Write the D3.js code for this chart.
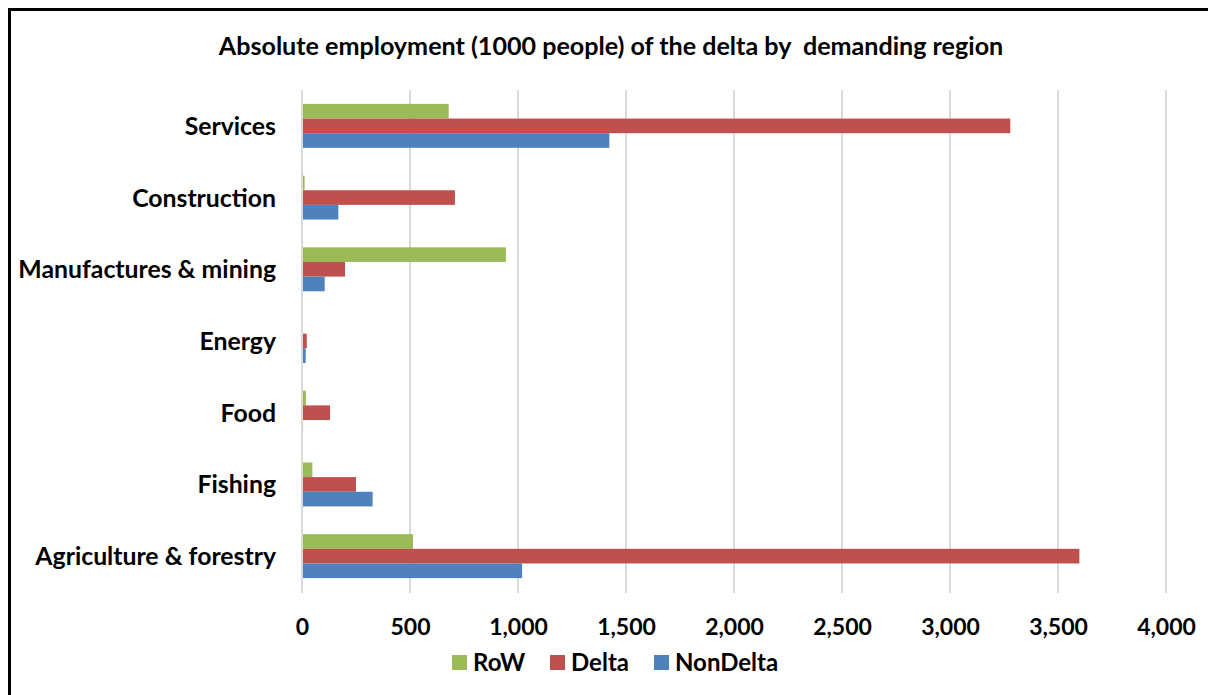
<!DOCTYPE html>
<html>
<head>
<meta charset="utf-8">
<script src="https://cdn.jsdelivr.net/npm/d3@7"></script>
<style>
  html, body { margin: 0; padding: 0; background: #fff; }
  svg { display: block; }
  text { font-family: Lato, "Liberation Sans", sans-serif; font-weight: bold; fill: #000; }
</style>
</head>
<body>
<svg id="chart" width="1208" height="695"></svg>
<script>
// Employment by sector (1000 people), split by demanding region
const categories = ["Services", "Construction", "Manufactures & mining", "Energy", "Food", "Fishing", "Agriculture & forestry"];
const seriesNames = ["RoW", "Delta", "NonDelta"];
const rowValues      = [679, 12, 944, 1, 18, 48, 514];
const deltaValues    = [3279, 708, 199, 22, 130, 250, 3599];
const nonDeltaValues = [1423, 168, 105, 17, 5, 327, 1019];
const seriesColors = ["#9BBB59", "#C0504D", "#4F81BD"];
const xTicks = [0, 500, 1000, 1500, 2000, 2500, 3000, 3500, 4000];
const titleText = "Absolute employment (1000 people) of the delta by  demanding region";

const seriesValues = [rowValues, deltaValues, nonDeltaValues];
const rows = categories.map((c, i) => ({
  category: c,
  values: seriesNames.map((s, j) => ({ series: s, value: seriesValues[j][i] }))
}));

const svg = d3.select("#chart");

// outer frame
svg.append("rect")
  .attr("x", 9.5).attr("y", 9.5)
  .attr("width", 1300).attr("height", 800)
  .attr("fill", "#fff").attr("stroke", "#000").attr("stroke-width", 3);

const plot = { left: 302, right: 1166, top: 90, bottom: 592 };

const x = d3.scaleLinear().domain([0, 4000]).range([plot.left, plot.right]);
const y = d3.scaleBand().domain(categories).range([plot.top, plot.bottom])
  .paddingInner(0.387).paddingOuter(0.1935);
const ySub = d3.scaleBand().domain(seriesNames).range([0, y.bandwidth()]).padding(0);
const color = d3.scaleOrdinal().domain(seriesNames).range(seriesColors);

// title
svg.append("text")
  .attr("x", 611).attr("y", 55)
  .attr("text-anchor", "middle")
  .attr("font-size", 25.1)
  .style("white-space", "pre")
  .text(titleText);

// vertical gridlines
svg.append("g")
  .selectAll("line")
  .data(xTicks)
  .join("line")
  .attr("x1", d => x(d)).attr("x2", d => x(d))
  .attr("y1", plot.top).attr("y2", plot.bottom + 1)
  .attr("stroke", "#d9d9d9").attr("stroke-width", 2);

// bars
svg.append("g")
  .selectAll("g")
  .data(rows)
  .join("g")
  .attr("transform", d => `translate(0,${y(d.category)})`)
  .selectAll("rect")
  .data(d => d.values)
  .join("rect")
  .attr("x", x(0) + 1)
  .attr("y", d => ySub(d.series))
  .attr("width", d => Math.max(0, x(d.value) - x(0) - 1))
  .attr("height", ySub.bandwidth())
  .attr("fill", d => color(d.series));

// category labels
const yAxis = d3.axisLeft(y).tickSize(0).tickPadding(0);
const yg = svg.append("g")
  .attr("transform", `translate(276,0)`)
  .call(yAxis);
yg.select(".domain").remove();
yg.selectAll("text")
  .attr("font-size", 24.8)
  .attr("font-family", "Lato, 'Liberation Sans', sans-serif")
  .attr("font-weight", "bold")
  .attr("fill", "#000")
  .attr("dy", "0.36em");

// value axis labels
const xAxis = d3.axisBottom(x).tickValues(xTicks).tickFormat(d3.format(",")).tickSize(0).tickPadding(0);
const xg = svg.append("g")
  .attr("transform", `translate(0,${plot.bottom})`)
  .call(xAxis);
xg.select(".domain").remove();
xg.selectAll("text")
  .attr("font-size", 23)
  .attr("font-family", "Lato, 'Liberation Sans', sans-serif")
  .attr("font-weight", "bold")
  .attr("fill", "#000")
  .attr("dy", null)
  .attr("y", 43);

// legend
const legendX = [452, 550, 654];
const legend = svg.append("g");
const items = legend.selectAll("g")
  .data(seriesNames)
  .join("g")
  .attr("transform", (d, i) => `translate(${legendX[i]},655)`);
items.append("rect")
  .attr("width", 15).attr("height", 15)
  .attr("fill", d => color(d));
items.append("text")
  .attr("x", 21).attr("y", 15.5)
  .attr("font-size", 24)
  .text(d => d);
</script>
</body>
</html>
